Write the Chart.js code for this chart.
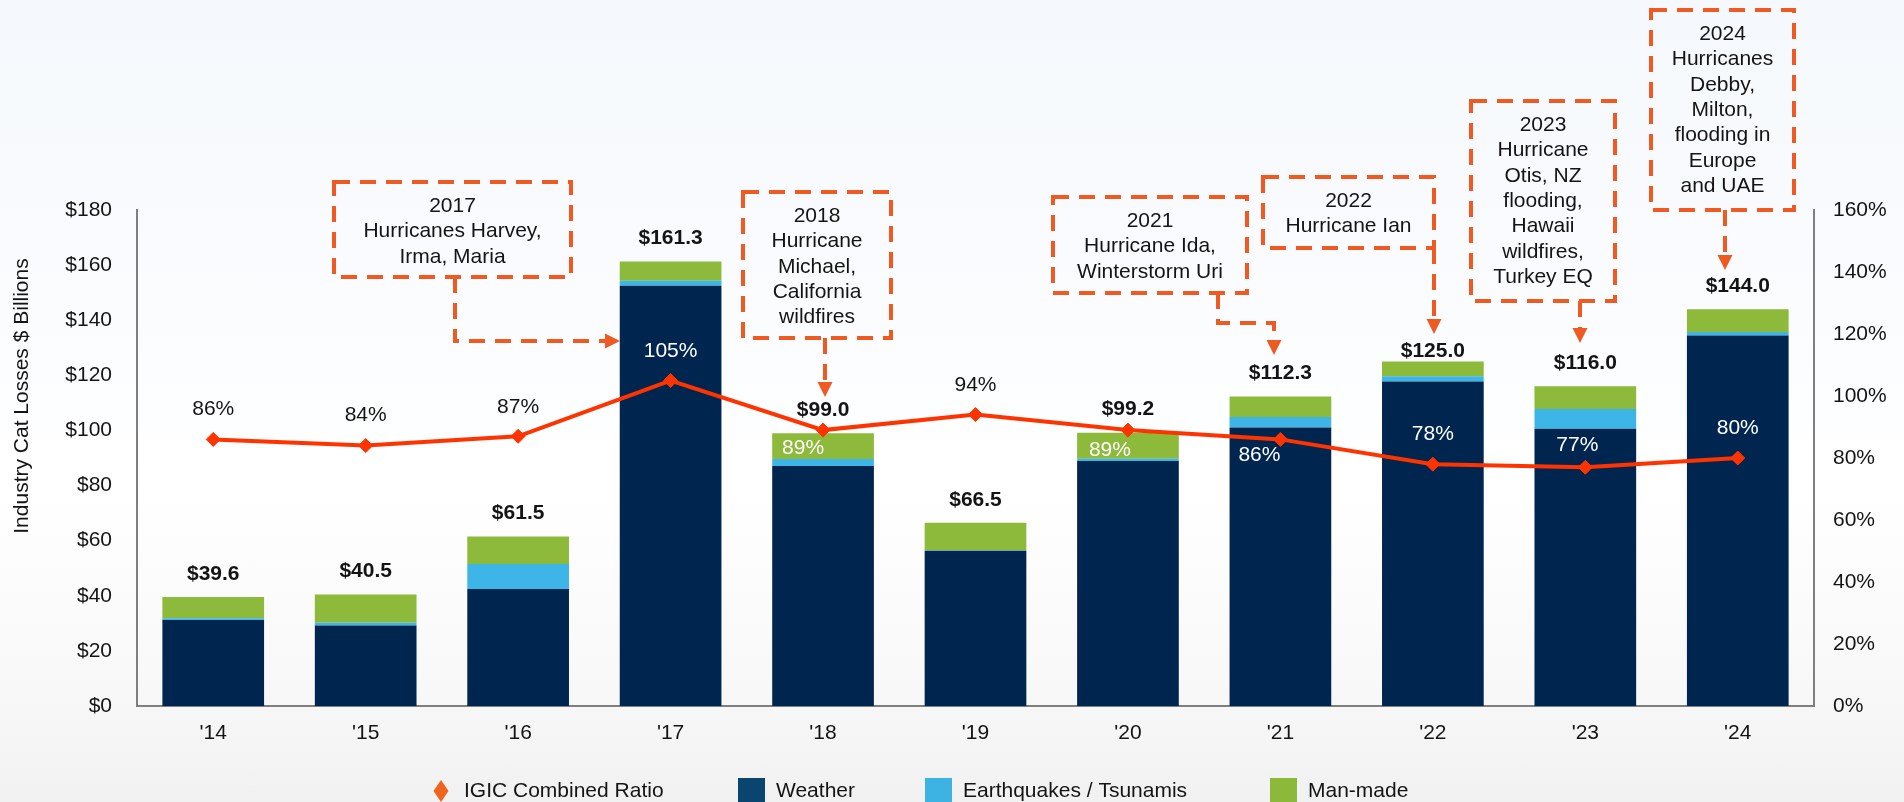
<!DOCTYPE html>
<html lang="en">
<head>
<meta charset="UTF-8">
<title>Industry Cat Losses vs IGIC Combined Ratio</title>
<script src="https://cdn.jsdelivr.net/npm/chart.js@4.4.1/dist/chart.umd.min.js"></script>
<style>
    html, body { margin: 0; padding: 0; overflow: hidden; }
    body {
        width: 1904px;
        height: 802px;
        background: linear-gradient(to bottom, #F5F8FC 0%, #FAFCFE 40%, #FFFFFF 60%, #F8F8F8 86%, #F1F1F1 100%);
    }
    canvas { display: block; }
</style>
</head>
<body>
<canvas id="catChart" width="1904" height="802"></canvas>
<script>
// ---- data ----
const years = ["'14", "'15", "'16", "'17", "'18", "'19", "'20", "'21", "'22", "'23", "'24"];
const weather = [31.2, 29.2, 42.5, 152.5, 87.1, 56.3, 88.9, 101.1, 117.8, 100.6, 134.5];
const quakes = [0.6, 1.0, 9.0, 1.8, 2.5, 0.2, 0.8, 3.8, 1.9, 7.2, 1.2];
const manMade = [7.8, 10.3, 10.0, 7.0, 9.4, 10.0, 9.5, 7.4, 5.3, 8.2, 8.3];
const totals = [39.6, 40.5, 61.5, 161.3, 99.0, 66.5, 99.2, 112.3, 125.0, 116.0, 144.0];
const combinedRatio = [86, 84, 87, 105, 89, 94, 89, 86, 78, 77, 80];
const lossMax = 180;
const ratioMax = 160;

const noteTexts = [
    ['2017', 'Hurricanes Harvey,', 'Irma, Maria'],
    ['2018', 'Hurricane', 'Michael,', 'California', 'wildfires'],
    ['2021', 'Hurricane Ida,', 'Winterstorm Uri'],
    ['2022', 'Hurricane Ian'],
    ['2023', 'Hurricane', 'Otis, NZ', 'flooding,', 'Hawaii', 'wildfires,', 'Turkey EQ'],
    ['2024', 'Hurricanes', 'Debby,', 'Milton,', 'flooding in', 'Europe', 'and UAE']
];

// ---- layout / style ----
const FONT = 'Arial, "Liberation Sans", sans-serif';
const ORANGE = '#EE5A22';
const TEXT = '#141414';

// callout boxes and their dashed connectors (pixels)
const noteBoxes = [
    { x: 334, y: 182, w: 237, h: 95, path: [[455, 277], [455, 341], [620, 341]] },
    { x: 743, y: 192, w: 148, h: 146, path: [[825, 338], [825, 397]] },
    { x: 1053, y: 197, w: 194, h: 96, path: [[1218, 293], [1218, 323], [1274, 323], [1274, 355]] },
    { x: 1263, y: 177, w: 171, h: 71, path: [[1434, 248], [1434, 334]] },
    { x: 1471, y: 101, w: 144, h: 200, path: [[1580, 301], [1580, 343]] },
    { x: 1651, y: 10, w: 143, h: 200, path: [[1725, 210], [1725, 270]] }
];
const totalLift = [23, 23, 23, 23, 23, 23, 23, 23, 10, 23, 23];
const ratioShift = [[0, -30], [0, -30], [0, -29], [0, -29], [-20, 18], [0, -29],
                    [-18, 20], [-21, 16], [0, -30], [-8, -22], [0, -30]];
const ratioOnBar = [false, false, false, true, true, false, true, true, true, true, true];
const legendSlots = [[441, 464], [738, 776], [925, 963], [1270, 1308]];
const legendColors = ['#F0641E', '#0A4570', '#3DB3E3', '#8CB93A'];

Chart.defaults.font.family = FONT;
Chart.defaults.font.size = 21;
Chart.defaults.color = TEXT;

function arrowHead(ctx, from, tip) {
    const ang = Math.atan2(tip[1] - from[1], tip[0] - from[0]);
    ctx.save();
    ctx.translate(tip[0], tip[1]);
    ctx.rotate(ang);
    ctx.beginPath();
    ctx.moveTo(0, 0);
    ctx.lineTo(-15, -7.5);
    ctx.lineTo(-15, 7.5);
    ctx.closePath();
    ctx.fill();
    ctx.restore();
}

const overlay = {
    id: 'overlay',
    afterDatasetsDraw(chart) {
        const ctx = chart.ctx;
        const xs = chart.scales.x, ys = chart.scales.y;
        ctx.save();
        ctx.textAlign = 'center';
        ctx.textBaseline = 'middle';
        // totals above the stacks
        ctx.font = 'bold 21px ' + FONT;
        ctx.fillStyle = TEXT;
        totals.forEach((t, i) => {
            ctx.fillText('$' + t.toFixed(1), xs.getPixelForValue(i), ys.getPixelForValue(t) - totalLift[i]);
        });
        // combined ratio labels
        ctx.font = '21px ' + FONT;
        chart.getDatasetMeta(0).data.forEach((pt, i) => {
            ctx.fillStyle = ratioOnBar[i] ? '#FFFFFF' : TEXT;
            ctx.fillText(combinedRatio[i] + '%', pt.x + ratioShift[i][0], pt.y + ratioShift[i][1]);
        });
        ctx.restore();
    },
    afterDraw(chart) {
        const ctx = chart.ctx;
        ctx.save();

        // y axis title
        ctx.save();
        ctx.translate(22, 396);
        ctx.rotate(-Math.PI / 2);
        ctx.font = '21px ' + FONT;
        ctx.fillStyle = TEXT;
        ctx.textAlign = 'center';
        ctx.textBaseline = 'middle';
        ctx.fillText('Industry Cat Losses $ Billions', 0, 0);
        ctx.restore();

        // callouts
        ctx.strokeStyle = ORANGE;
        ctx.fillStyle = ORANGE;
        ctx.lineWidth = 4;
        noteBoxes.forEach((b, n) => {
            ctx.setLineDash([16, 10]);
            ctx.strokeRect(b.x, b.y, b.w, b.h);
            const p = b.path;
            const tip = p[p.length - 1], prev = p[p.length - 2];
            const len = Math.hypot(tip[0] - prev[0], tip[1] - prev[1]);
            const end = [tip[0] - (tip[0] - prev[0]) / len * 14, tip[1] - (tip[1] - prev[1]) / len * 14];
            ctx.beginPath();
            ctx.moveTo(p[0][0], p[0][1]);
            for (let k = 1; k < p.length - 1; k++) ctx.lineTo(p[k][0], p[k][1]);
            ctx.lineTo(end[0], end[1]);
            ctx.stroke();
            ctx.setLineDash([]);
            arrowHead(ctx, prev, tip);

            ctx.save();
            ctx.fillStyle = TEXT;
            ctx.font = '21px ' + FONT;
            ctx.textAlign = 'center';
            ctx.textBaseline = 'middle';
            noteTexts[n].forEach((line, k) => {
                ctx.fillText(line, b.x + b.w / 2, b.y + 24 + k * 25.4);
            });
            ctx.restore();
        });

        // legend
        ctx.font = '21px ' + FONT;
        ctx.textBaseline = 'middle';
        ctx.textAlign = 'left';
        chart.data.datasets.forEach((ds, i) => {
            const [mx, tx] = legendSlots[i];
            ctx.fillStyle = legendColors[i];
            if (ds.type === 'line') {
                ctx.beginPath();
                ctx.moveTo(mx, 780);
                ctx.lineTo(mx + 7.5, 791);
                ctx.lineTo(mx, 802);
                ctx.lineTo(mx - 7.5, 791);
                ctx.closePath();
                ctx.fill();
            } else {
                ctx.fillRect(mx, 778, 27, 27);
            }
            ctx.fillStyle = TEXT;
            ctx.fillText(ds.label, tx, 791);
        });
        ctx.restore();
    }
};

const barCommon = { type: 'bar', yAxisID: 'y', stack: 'losses', order: 1, categoryPercentage: 1.0, barPercentage: 0.667 };

new Chart(document.getElementById('catChart'), {
    data: {
        labels: years,
        datasets: [
            {
                type: 'line',
                label: 'IGIC Combined Ratio',
                data: combinedRatio,
                yAxisID: 'yRatio',
                order: 0,
                borderColor: '#FF3300',
                backgroundColor: '#FF3300',
                borderWidth: 4,
                pointStyle: 'rectRot',
                pointRadius: 7,
                pointBorderWidth: 1,
                tension: 0
            },
            { ...barCommon, label: 'Weather', data: weather, backgroundColor: '#00264F' },
            { ...barCommon, label: 'Earthquakes / Tsunamis', data: quakes, backgroundColor: '#3DB5E6' },
            { ...barCommon, label: 'Man-made', data: manMade, backgroundColor: '#8DBA3A' }
        ]
    },
    options: {
        responsive: false,
        animation: false,
        layout: { padding: { top: 210, left: 0, right: 0, bottom: 0 } },
        plugins: {
            legend: { display: false },
            tooltip: { enabled: false }
        },
        scales: {
            x: {
                stacked: true,
                grid: { display: false, drawTicks: false },
                border: { display: true, color: '#7F7F7F', width: 2 },
                ticks: { padding: 15, color: TEXT },
                afterFit(scale) { scale.height = 96; }
            },
            y: {
                stacked: true,
                position: 'left',
                min: 0,
                max: lossMax,
                grid: { display: false, drawTicks: false },
                border: { display: true, color: '#7F7F7F', width: 2 },
                ticks: { stepSize: 20, padding: 25, color: TEXT, callback: v => '$' + v },
                afterFit(scale) { scale.width = 137; }
            },
            yRatio: {
                position: 'right',
                min: 0,
                max: ratioMax,
                grid: { display: false, drawTicks: false },
                border: { display: true, color: '#7F7F7F', width: 2 },
                ticks: { stepSize: 20, padding: 19, color: TEXT, callback: v => v + '%' },
                afterFit(scale) { scale.width = 90; }
            }
        }
    },
    plugins: [overlay]
});
</script>
</body>
</html>
